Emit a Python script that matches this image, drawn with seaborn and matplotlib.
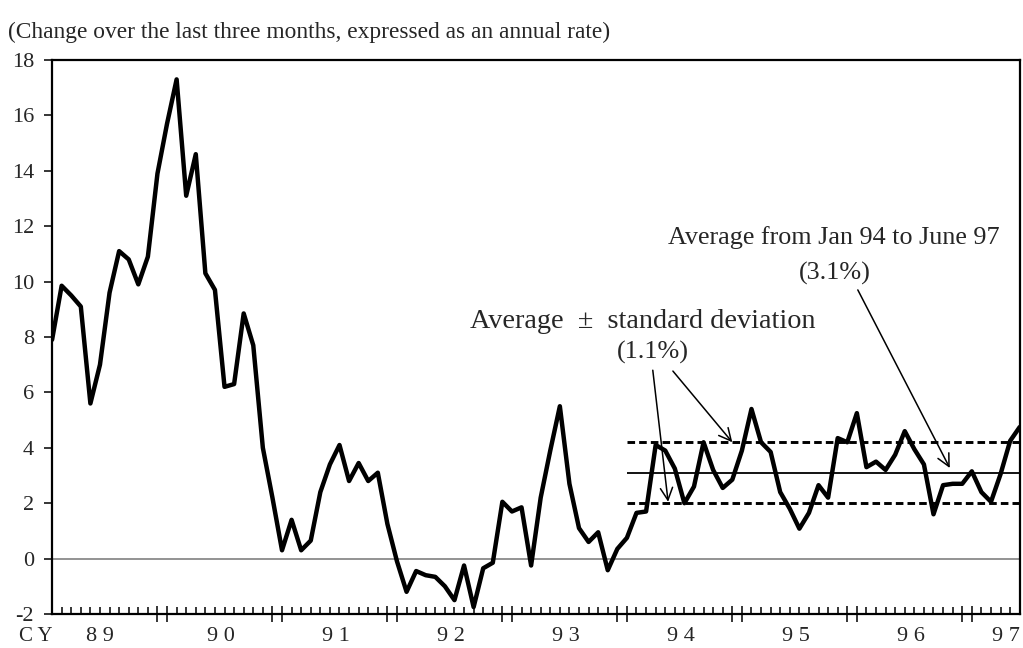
import numpy as np
import pandas as pd
import seaborn as sns
import matplotlib.pyplot as plt
from matplotlib.transforms import blended_transform_factory

# Change over last three months, annual rate (%), monthly Jan 89 - Jun 97
cpi_89 = [7.9, 9.85, 9.5, 9.1, 5.6, 7.0, 9.6, 11.1, 10.8, 9.9, 10.9, 13.9]
cpi_90 = [15.7, 17.3, 13.1, 14.6, 10.3, 9.7, 6.2, 6.3, 8.85, 7.7, 4.0, 2.2]
cpi_91 = [0.3, 1.4, 0.3, 0.65, 2.4, 3.4, 4.1, 2.8, 3.45, 2.8, 3.1, 1.25]
cpi_92 = [-0.1, -1.2, -0.45, -0.6, -0.66, -1.0, -1.5, -0.25, -1.75, -0.35, -0.15, 2.05]
cpi_93 = [1.7, 1.85, -0.25, 2.2, 3.9, 5.5, 2.7, 1.1, 0.6, 0.95, -0.42, 0.35]
cpi_94 = [0.75, 1.65, 1.7, 4.1, 3.9, 3.25, 2.0, 2.6, 4.2, 3.2, 2.55, 2.85]
cpi_95 = [3.9, 5.4, 4.2, 3.85, 2.4, 1.8, 1.08, 1.65, 2.65, 2.2, 4.35, 4.2]
cpi_96 = [5.25, 3.3, 3.5, 3.2, 3.75, 4.6, 3.95, 3.4, 1.6, 2.65, 2.7, 2.7]
cpi_97 = [3.15, 2.4, 2.05, 3.05, 4.25, 4.75]

year_labels = ["8 9", "9 0", "9 1", "9 2", "9 3", "9 4", "9 5", "9 6", "9 7"]
avg_9497 = 3.1
std_9497 = 1.1

values = cpi_89 + cpi_90 + cpi_91 + cpi_92 + cpi_93 + cpi_94 + cpi_95 + cpi_96 + cpi_97
df = pd.DataFrame({"month": np.arange(len(values)), "rate": values})
last = len(values) - 1
start_94 = len(cpi_89) * 5

sns.set_style("ticks")
plt.rcParams["font.family"] = ["Liberation Serif", "DejaVu Serif"]

fig = plt.figure(figsize=(10.23, 6.48), dpi=100)
ax = fig.add_axes([0.0509, 0.0525, 0.9459, 0.8549])

ax.axhline(0, color="#808080", lw=1.2, zorder=1)
sns.lineplot(data=df, x="month", y="rate", color="black", lw=3.2, ax=ax,
             solid_joinstyle="round", solid_capstyle="round", zorder=3)

# average and +/- one standard deviation since Jan 94
ax.hlines(avg_9497, start_94, last, color="black", lw=1.3, zorder=2)
ax.hlines([avg_9497 + std_9497, avg_9497 - std_9497], start_94, last,
          color="black", lw=2.1, linestyles=(0, (2.6, 1.4)), zorder=2)

ax.set_xlim(0, last)
ax.set_ylim(-2, 18)
ax.set_yticks(range(-2, 19, 2))
ax.set_yticklabels([str(v) for v in range(-2, 19, 2)])
ax.set_xlabel("")
ax.set_ylabel("")

major = []
for y in range(1, 9):
    major += [12 * y - 1, 12 * y]
ax.set_xticks(major)
ax.set_xticklabels([])
ax.set_xticks([m for m in range(1, last) if m not in major], minor=True)
ax.tick_params(axis="x", which="minor", direction="in", length=5, width=1.3)
ax.tick_params(axis="x", which="major", direction="inout", length=12, width=1.3)
ax.tick_params(axis="y", direction="out", length=6, width=1.3, labelsize=16, pad=7)

for s in ax.spines.values():
    s.set_linewidth(1.6)
    s.set_color("black")

# year labels under the axis
trans = blended_transform_factory(ax.transData, ax.transAxes)
ax.text(-1.7, -0.041, "C Y", transform=trans, ha="center", va="center", fontsize=15)
ax.text(5.0, -0.041, year_labels[0], transform=trans, ha="center", va="center", fontsize=16)
for i, lab in enumerate(year_labels[1:-1]):
    ax.text(17.6 + 12 * i, -0.041, lab, transform=trans, ha="center",
            va="center", fontsize=16)
ax.text(99.6, -0.041, year_labels[-1], transform=trans, ha="center",
        va="center", fontsize=16)

fig.text(8 / 1023, 1 - 32 / 648,
         "(Change over the last three months, expressed as an annual rate)",
         ha="left", va="center", fontsize=16.8)

# annotations
ax.text(61.7, 8.55, "Average  ±  standard deviation", ha="center", va="center", fontsize=20.3)
ax.text(62.7, 7.45, "(1.1%)", ha="center", va="center", fontsize=18.8)
ax.text(81.6, 11.6, "Average from Jan 94 to June 97", ha="center", va="center", fontsize=18.8)
ax.text(81.7, 10.3, "(3.1%)", ha="center", va="center", fontsize=18.8)

arrow = dict(arrowstyle="->", lw=1.1, color="black", mutation_scale=22,
             shrinkA=0, shrinkB=0)
ax.annotate("", xy=(64.3, 2.05), xytext=(62.7, 6.8), arrowprops=arrow)
ax.annotate("", xy=(71.0, 4.2), xytext=(64.8, 6.77), arrowprops=arrow)
ax.annotate("", xy=(93.7, 3.27), xytext=(84.1, 9.7), arrowprops=arrow)

fig.savefig("out.png", dpi=100)
